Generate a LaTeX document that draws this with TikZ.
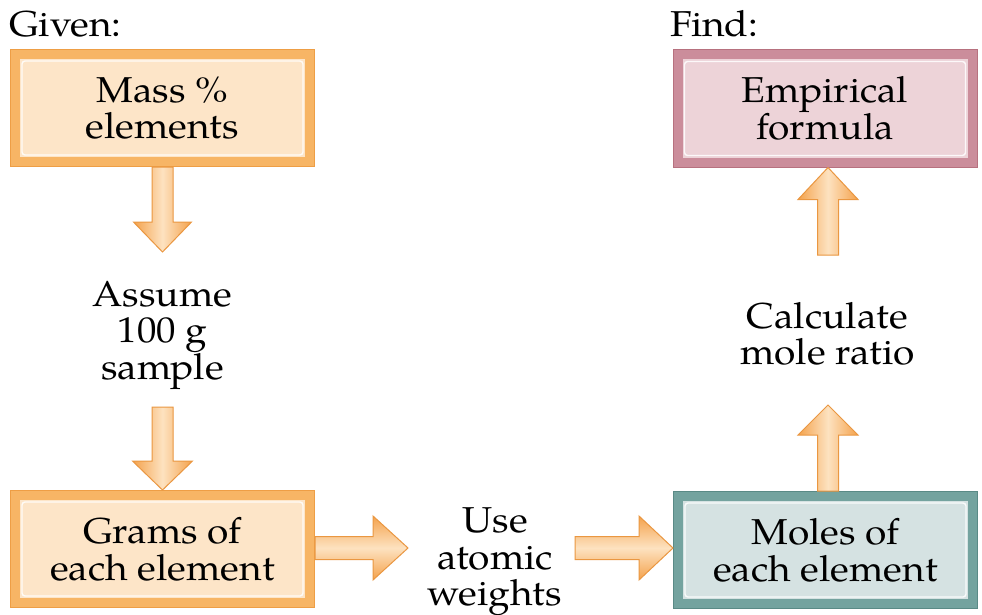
\documentclass[tikz,border=0pt]{standalone}
\usepackage{fontspec}
\setmainfont{texgyrepagella-regular.otf}[FakeStretch=1.08]
\usetikzlibrary{calc}
\pgfdeclarelayer{bg}
\pgfsetlayers{bg,main}
\definecolor{orB}{HTML}{F7B565}
\definecolor{orD}{HTML}{EE9E45}
\definecolor{orF}{HTML}{FDE5C8}
\definecolor{pkB}{HTML}{CB8D9B}
\definecolor{pkD}{HTML}{B7717F}
\definecolor{pkF}{HTML}{EDD3D8}
\definecolor{tlB}{HTML}{74A39F}
\definecolor{tlD}{HTML}{5A8A86}
\definecolor{tlF}{HTML}{D5E2E2}
\definecolor{arE}{HTML}{F4A24C}
\definecolor{arL}{HTML}{FDE2C0}
\definecolor{arD}{HTML}{EA9741}
\newcommand{\bigtxt}{\fontsize{36}{36.5}\selectfont}
\newcommand{\boxshadow}[1]{%
  \foreach \e in {-4,...,4}{%
    \fill[black,opacity=0.045] ([shift={(7-\e,9-\e)}]#1.north west) rectangle ([shift={(7+\e,9+\e)}]#1.south east);}}
\newcommand{\boxtrim}[2]{%
  \draw[#2,line width=1] ([shift={(0.5,0.5)}]#1.north west) rectangle ([shift={(-0.5,-0.5)}]#1.south east);
  \draw[white,opacity=0.85,line width=1.4,rounded corners=3] ([shift={(12,12)}]#1.north west) rectangle ([shift={(-12,-12)}]#1.south east);}
\newcommand{\fatarrow}[6]{%
  \coordinate (faS) at (#1);
  \coordinate (faT) at (#2);
  \coordinate (faB) at ($(faT)!#5!(faS)$);
  \coordinate (s1) at ($(faS)!#3!90:(faT)$);
  \coordinate (s2) at ($(faS)!#3!-90:(faT)$);
  \coordinate (b1) at ($(faB)!#3!-90:(faS)$);
  \coordinate (b2) at ($(faB)!#3!90:(faS)$);
  \coordinate (h1) at ($(faB)!#4!-90:(faS)$);
  \coordinate (h2) at ($(faB)!#4!90:(faS)$);
  \begin{pgfonlayer}{bg}
  \foreach \e in {0,1,2,3}{%
    \fill[black,opacity=0.04] ($(s1)+(5+\e,6+\e)$) -- ($(b1)+(5+\e,6+\e)$) -- ($(h1)+(5+\e,6+\e)$) -- ($(faT)+(5+\e,6+\e)$) -- ($(h2)+(5+\e,6+\e)$) -- ($(b2)+(5+\e,6+\e)$) -- ($(s2)+(5+\e,6+\e)$) -- cycle;}
  \end{pgfonlayer}
  \path[draw=arD,line width=1,line join=miter,#6] (s1) -- (b1) -- (h1) -- (faT) -- (h2) -- (b2) -- (s2) -- cycle;}
\begin{document}
\begin{tikzpicture}[x=1pt,y=-1pt,
  boxbase/.style={line width=10,minimum width=295,minimum height=108,inner sep=0,align=center,font=\bigtxt},
  boxO/.style={boxbase,draw=orB,fill=orF},
  boxP/.style={boxbase,draw=pkB,fill=pkF},
  boxT/.style={boxbase,draw=tlB,fill=tlF},
  label/.style={align=center,font=\bigtxt,inner sep=0},
  vshade/.style={left color=arE,right color=arE,middle color=arL},
  hshade/.style={top color=arE,bottom color=arE,middle color=arL}]
\useasboundingbox (0,0) rectangle (982,615);
\fill[white] (0,0) rectangle (982,615);

\node[label,anchor=base west] (given) at (9,37) {Given:};
\node[label,anchor=base west] (find) at (670,37) {Find:};

\node[boxO] (mass) at (162.5,108) {Mass \%\\elements};
\node[boxO] (grams) at (162.5,549) {Grams of\\each element};
\node[boxP] (emp) at (825,108.5) {Empirical\\formula};
\node[boxT] (moles) at (825.5,550) {Moles of\\each element};

\node[label] (assume) at (162.5,335) {Assume\\100 g\\sample};
\node[label] (use) at (495,562) {Use\\atomic\\weights};
\node[label] (calc) at (827.5,334) {Calculate\\mole ratio};

\begin{pgfonlayer}{bg}
\boxshadow{mass}
\boxshadow{grams}
\boxshadow{emp}
\boxshadow{moles}
\end{pgfonlayer}
\boxtrim{mass}{orD}
\boxtrim{grams}{orD}
\boxtrim{emp}{pkD}
\boxtrim{moles}{tlD}

\coordinate (a1t) at (162.5,252);
\coordinate (a2s) at (162.5,407);
\coordinate (a3t) at (408,548);
\coordinate (a4s) at (575,548);
\coordinate (a5t) at (828,405);
\coordinate (a6s) at (828,255);

\fatarrow{mass.south}{a1t}{10.5pt}{29pt}{30pt}{vshade}
\fatarrow{a2s}{grams.north}{10.5pt}{30pt}{29pt}{vshade}
\fatarrow{grams.east |- a3t}{a3t}{11.5pt}{32pt}{35pt}{hshade}
\fatarrow{a4s}{moles.west |- a4s}{11.5pt}{32pt}{34pt}{hshade}
\fatarrow{moles.north -| a5t}{a5t}{10.5pt}{30pt}{30pt}{vshade}
\fatarrow{a6s}{emp.south -| a6s}{10.5pt}{30pt}{32pt}{vshade}
\end{tikzpicture}
\end{document}
